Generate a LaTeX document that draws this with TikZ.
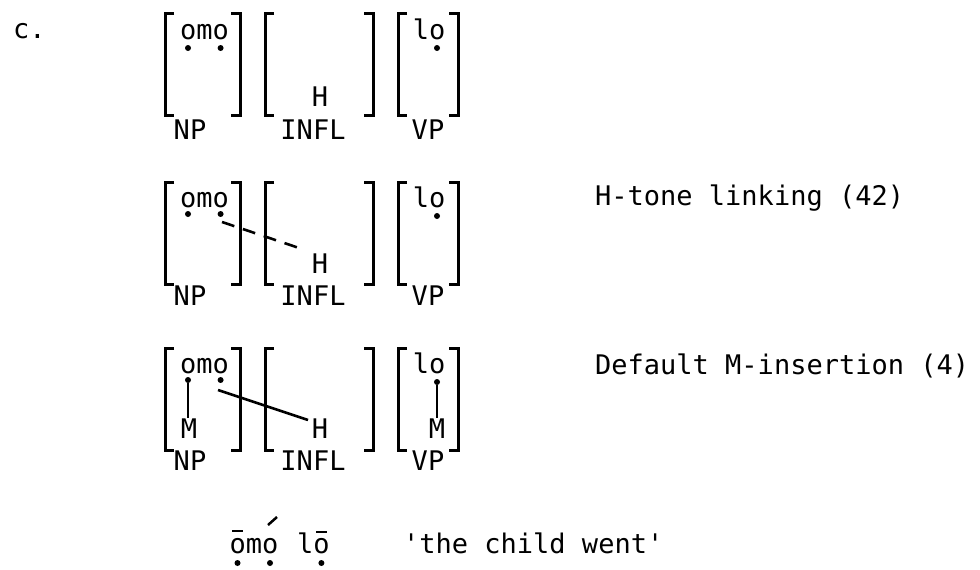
\documentclass[tikz,border=0pt]{standalone}
\usepackage{fontspec}
\setmonofont{DejaVu Sans Mono}
\tikzset{
  txt/.style={inner sep=0pt, anchor=base, font=\ttfamily\fontsize{27}{32}\selectfont},
  txtw/.style={txt, anchor=base west},
  brk/.style={line width=3pt, line cap=butt, line join=miter},
  assoc/.style={line width=2.6pt},
  dashassoc/.style={line width=2.6pt, dash pattern=on 13pt off 9pt},
  tdot/.style={circle, fill, inner sep=0pt, minimum size=6pt},
  diacr/.style={line width=2.5pt}
}
\newcommand\bracketrow{%
  \draw[brk] (174,0) -| (165,102) -- (174,102);
  \draw[brk] (231,0) -| (240,102) -- (231,102);
  \draw[brk] (274,0) -| (265,102) -- (274,102);
  \draw[brk] (364,0) -| (373,102) -- (364,102);
  \draw[brk] (407,0) -| (398,102) -- (407,102);
  \draw[brk] (449,0) -| (458,102) -- (449,102);
}
\begin{document}
\begin{tikzpicture}[x=1pt,y=-1pt]
\useasboundingbox (0,0) rectangle (980,570);

\node[txtw] (lab) at (13,38) {c.};

% ---- row 1
\begin{scope}[shift={(0,13)}]
  \bracketrow
  \node[txtw] (omoA) at (180,26) {omo};
  \node[txtw] (loA) at (412.6,26) {lo};
  \node[tdot] (dA1) at (188,35) {};
  \node[tdot] (dA2) at (220.6,35) {};
  \node[tdot] (dA3) at (437,35) {};
  \node[txt] (hA) at (320,93) {H};
  \node[txt] (npA) at (190,126) {NP};
  \node[txt] (inflA) at (313,126) {INFL};
  \node[txt] (vpA) at (428,126) {VP};
\end{scope}

% ---- row 2
\begin{scope}[shift={(0,182)}]
  \bracketrow
  \node[txtw] (omoB) at (180,25) {omo};
  \node[txtw] (loB) at (412.6,25) {lo};
  \node[tdot] (dB1) at (188,32) {};
  \node[tdot] (dB2) at (220.6,32) {};
  \node[tdot] (dB3) at (437,34) {};
  \node[txt] (hB) at (320,91) {H};
  \node[txt] (npB) at (190,123) {NP};
  \node[txt] (inflB) at (313,123) {INFL};
  \node[txt] (vpB) at (428,123) {VP};
  \coordinate (aB) at (222,40);
  \coordinate (bB) at (305,68);
  \draw[dashassoc] (aB) -- (bB);
\end{scope}
\node[txtw] (ruleB) at (595,205) {H-tone linking (42)};

% ---- row 3
\begin{scope}[shift={(0,348)}]
  \bracketrow
  \node[txtw] (omoC) at (180,25) {omo};
  \node[txtw] (loC) at (412.6,25) {lo};
  \node[tdot] (dC1) at (188,32) {};
  \node[tdot] (dC2) at (220.6,32) {};
  \node[tdot] (dC3) at (437,34) {};
  \node[txt] (mC1) at (189,90) {M};
  \node[txt] (hC) at (320,90) {H};
  \node[txt] (mC3) at (437,90) {M};
  \node[txt] (npC) at (190,122) {NP};
  \node[txt] (inflC) at (313,122) {INFL};
  \node[txt] (vpC) at (428,122) {VP};
  \draw[assoc] (dC1) -- (dC1 |- mC1.north);
  \draw[assoc] (dC3) -- (dC3 |- mC3.north);
  \coordinate (aC) at (218,42);
  \coordinate (bC) at (308,72);
  \draw[assoc] (aC) -- (bC);
\end{scope}
\node[txtw] (ruleC) at (595,374) {Default M-insertion (4)};

% ---- final line
\node[txtw] (omoF) at (229.4,553) {omo};
\node[txtw] (loF) at (297,553) {lo};
\node[txtw] (gloss) at (403,553) {'the child went'};
\draw[diacr] (232,531) -- (243,531);
\draw[diacr] (268,525) -- (277,517);
\draw[diacr] (316,532) -- (327,532);
\node[tdot] (dF1) at (237.5,563) {};
\node[tdot] (dF2) at (270,563) {};
\node[tdot] (dF3) at (321.4,563) {};
\end{tikzpicture}
\end{document}
